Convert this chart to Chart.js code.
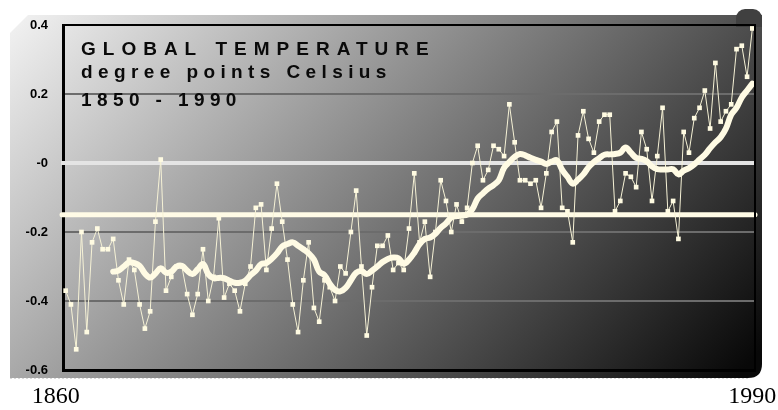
<!DOCTYPE html>
<html>
<head>
<meta charset="utf-8">
<title>Global temperature 1860-1990</title>
<script src="https://cdn.jsdelivr.net/npm/chart.js@4.4.1/dist/chart.umd.min.js"></script>
<style>
  html, body { margin: 0; padding: 0; background: #fff; }
  #wrap { width: 778px; height: 410px; }
</style>
</head>
<body>
<div id="wrap"><canvas id="tempChart" width="778" height="410"></canvas></div>
<script>
// Years on the x axis, one point per year
const firstYear = 1860;
const lastYear = 1990;
const years = [];
for (let yr = firstYear; yr <= lastYear; yr++) years.push(String(yr));

// Annual anomaly (degrees C)
const annualTemps = [
    -0.37, -0.41, -0.54, -0.20, -0.49, -0.23, -0.19, -0.25, -0.25, -0.22,
    -0.34, -0.41, -0.28, -0.31, -0.41, -0.48, -0.43, -0.17, 0.01, -0.37,
    -0.33, -0.30, -0.30, -0.38, -0.44, -0.38, -0.25, -0.40, -0.33, -0.16,
    -0.39, -0.35, -0.37, -0.43, -0.35, -0.30, -0.13, -0.12, -0.31, -0.19,
    -0.06, -0.17, -0.28, -0.41, -0.49, -0.34, -0.23, -0.42, -0.46, -0.34,
    -0.36, -0.40, -0.30, -0.32, -0.20, -0.08, -0.30, -0.50, -0.36, -0.24,
    -0.24, -0.21, -0.31, -0.29, -0.31, -0.19, -0.03, -0.23, -0.17, -0.33,
    -0.20, -0.05, -0.11, -0.20, -0.12, -0.17, -0.13, 0.00, 0.05, -0.05,
    -0.02, 0.05, 0.04, 0.02, 0.17, 0.06, -0.05, -0.05, -0.06, -0.05,
    -0.13, -0.03, 0.09, 0.12, -0.13, -0.14, -0.23, 0.08, 0.15, 0.07,
    0.03, 0.12, 0.14, 0.14, -0.14, -0.11, -0.03, -0.04, -0.07, 0.09,
    0.04, -0.11, 0.02, 0.16, -0.14, -0.11, -0.22, 0.09, 0.03, 0.13,
    0.16, 0.21, 0.10, 0.29, 0.12, 0.15, 0.17, 0.33, 0.34, 0.25,
    0.39
];

// Smoothed curve (thick line), also; starts in 1869
const smoothTemps = [
    null, null, null, null, null, null, null, null, null, -0.315,
    -0.312, -0.300, -0.288, -0.290, -0.298, -0.320, -0.332, -0.320, -0.305, -0.318,
    -0.315, -0.300, -0.298, -0.312, -0.322, -0.308, -0.293, -0.322, -0.334, -0.333,
    -0.334, -0.341, -0.347, -0.347, -0.341, -0.325, -0.312, -0.293, -0.290, -0.278,
    -0.262, -0.242, -0.235, -0.230, -0.240, -0.250, -0.262, -0.280, -0.315, -0.325,
    -0.350, -0.368, -0.372, -0.362, -0.340, -0.318, -0.313, -0.322, -0.312, -0.300,
    -0.287, -0.278, -0.274, -0.276, -0.292, -0.280, -0.260, -0.235, -0.220, -0.216,
    -0.205, -0.188, -0.175, -0.158, -0.154, -0.152, -0.150, -0.134, -0.103, -0.088,
    -0.074, -0.064, -0.050, -0.014, 0.003, 0.018, 0.026, 0.022, 0.015, 0.009,
    0.004, -0.003, 0.004, 0.008, -0.020, -0.040, -0.060, -0.048, -0.033, -0.012,
    0.003, 0.014, 0.024, 0.025, 0.026, 0.030, 0.045, 0.030, 0.015, 0.012,
    0.005, -0.010, -0.018, -0.019, -0.019, -0.018, -0.033, -0.022, -0.015, -0.004,
    0.010, 0.024, 0.043, 0.060, 0.075, 0.100, 0.140, 0.160, 0.190, 0.210,
    0.230
];

// Horizontal reference lines: zero and the long-term mean
const zeroLevel = 0;
const meanLevel = -0.15;

const yTickLabels = ['-0.6', '-0.4', '-0.2', '-0', '0.2', '0.4'];
const xTickLabels = ['1860', '1990'];
const titleLines = ['GLOBAL TEMPERATURE', 'degree points Celsius', '1850 - 1990'];

// Grey slide background with the diagonal gradient
const backdrop = {
    id: 'backdrop',
    beforeDraw(chart) {
        const ctx = chart.ctx;
        ctx.save();
        ctx.fillStyle = '#ffffff';
        ctx.fillRect(0, 0, chart.width, chart.height);

        const grad = ctx.createLinearGradient(10, 15, 580, 545);
        grad.addColorStop(0, '#f3f3f3');
        grad.addColorStop(1, '#080808');
        ctx.fillStyle = grad;
        ctx.beginPath();
        ctx.moveTo(28, 15);
        ctx.lineTo(762, 15);
        ctx.lineTo(762, 364);
        ctx.quadraticCurveTo(762, 378, 748, 378);
        ctx.lineTo(10, 378);
        ctx.lineTo(10, 33);
        ctx.closePath();
        ctx.fill();

        // little tab on the top right corner
        ctx.fillStyle = '#404040';
        ctx.beginPath();
        ctx.roundRect(736, 9, 26, 18, [9, 9, 0, 0]);
        ctx.fill();

        // light dotted bottom edge
        ctx.strokeStyle = '#d8d8d8';
        ctx.lineWidth = 1;
        ctx.setLineDash([2, 2]);
        ctx.beginPath();
        ctx.moveTo(10, 378.5);
        ctx.lineTo(748, 378.5);
        ctx.stroke();
        ctx.restore();
    }
};

// Zero line and mean line, drawn under the data
const refLines = {
    id: 'refLines',
    beforeDatasetsDraw(chart) {
        const { ctx, chartArea, scales } = chart;
        const y = scales.y;
        ctx.save();
        ctx.lineCap = 'butt';

        ctx.strokeStyle = '#e4e4e4';
        ctx.lineWidth = 4;
        ctx.beginPath();
        ctx.moveTo(chartArea.left - 2, y.getPixelForValue(zeroLevel));
        ctx.lineTo(chartArea.right, y.getPixelForValue(zeroLevel));
        ctx.stroke();

        ctx.strokeStyle = '#fffbe6';
        ctx.lineWidth = 5;
        ctx.lineCap = 'round';
        ctx.beginPath();
        ctx.moveTo(chartArea.left - 1, y.getPixelForValue(meanLevel));
        ctx.lineTo(chartArea.right, y.getPixelForValue(meanLevel));
        ctx.stroke();
        ctx.restore();
    }
};

// Top / right frame, the year labels and the title block
const frameAndTitle = {
    id: 'frameAndTitle',
    afterDraw(chart) {
        const { ctx, chartArea, scales } = chart;
        ctx.save();
        ctx.strokeStyle = '#000';
        ctx.lineWidth = 2;
        ctx.beginPath();
        ctx.moveTo(chartArea.left, chartArea.top);
        ctx.lineTo(chartArea.right, chartArea.top);
        ctx.lineTo(chartArea.right, chartArea.bottom);
        ctx.stroke();

        // year labels under the two ends of the x axis
        ctx.fillStyle = '#000';
        ctx.font = '24px "Liberation Serif", "Times New Roman", serif';
        ctx.textAlign = 'center';
        ctx.textBaseline = 'alphabetic';
        const x = scales.x;
        const firstPx = x.getPixelForValue(years.indexOf(xTickLabels[0]));
        const lastPx = x.getPixelForValue(years.indexOf(xTickLabels[1]));
        ctx.fillText(xTickLabels[0], firstPx - 10, 403);
        ctx.fillText(xTickLabels[1], lastPx, 403);

        ctx.fillStyle = '#0a0a0a';
        ctx.textAlign = 'left';
        ctx.font = 'bold 19px "Liberation Sans", Arial, sans-serif';
        ctx.letterSpacing = '7px';
        ctx.fillText(titleLines[0], 81, 55);
        ctx.letterSpacing = '5.4px';
        ctx.fillText(titleLines[1], 81, 78);
        ctx.fillText(titleLines[2], 81, 106);
        ctx.restore();
    }
};

new Chart(document.getElementById('tempChart'), {
    type: 'line',
    data: {
        labels: years,
        datasets: [
            {
                label: 'Smoothed',
                data: smoothTemps,
                borderColor: '#fffbe4',
                borderWidth: 6,
                borderCapStyle: 'round',
                borderJoinStyle: 'round',
                tension: 0.4,
                pointRadius: 0,
                spanGaps: false
            },
            {
                label: 'Annual',
                data: annualTemps,
                borderColor: '#f6f2d6',
                borderWidth: 1,
                tension: 0,
                pointStyle: 'rect',
                pointRadius: 3.3,
                pointBackgroundColor: '#fffbe2',
                pointBorderColor: '#fffbe2',
                pointBorderWidth: 0
            }
        ]
    },
    options: {
        responsive: false,
        animation: false,
        layout: { padding: { top: 25, right: 23, left: 0, bottom: 0 } },
        plugins: {
            legend: { display: false },
            tooltip: { enabled: false },
            title: { display: false }
        },
        scales: {
            x: {
                offset: true,
                afterFit: scale => { scale.height = 40; },
                grid: { display: true, drawOnChartArea: false, drawTicks: false },
                border: { display: true, color: '#000', width: 3 },
                ticks: { display: false, autoSkip: false }
            },
            y: {
                min: -0.6,
                max: 0.4,
                afterFit: scale => { scale.width = 63; },
                grid: { color: '#6c6c6c', lineWidth: 2, drawTicks: false },
                border: { display: true, color: '#000', width: 3 },
                ticks: {
                    stepSize: 0.2,
                    padding: 15,
                    color: '#000',
                    font: { family: '"Liberation Sans", Arial, sans-serif', size: 13, weight: 'bold' },
                    callback: (value, index) => yTickLabels[index]
                }
            }
        }
    },
    plugins: [backdrop, refLines, frameAndTitle]
});
</script>
</body>
</html>
